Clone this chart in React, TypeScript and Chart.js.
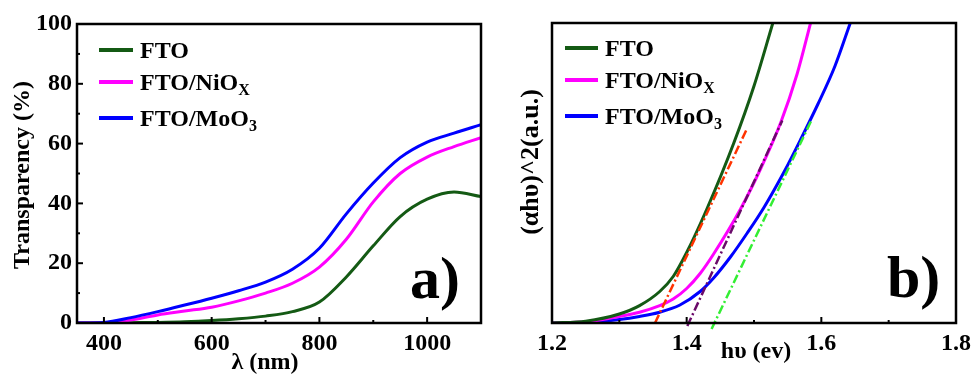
import React, { useEffect, useRef } from "react";
import { Chart, registerables } from "chart.js";

Chart.register(...registerables);

const FONT = '"Liberation Serif", "Times New Roman", serif';

// ---------- Panel a) transparency ----------
const wavelengths = [350, 400, 450, 500, 550, 600, 650, 700, 750, 800, 850, 900, 950, 1000, 1050, 1100];
const transFTO = [0, 0, 0.1, 0.2, 0.4, 0.8, 1.4, 2.3, 3.8, 7, 15.4, 25.8, 35.6, 41.4, 43.8, 42.3];
const transNiOx = [0, 0, 1.0, 2.7, 4.0, 5.3, 7.4, 10, 13.3, 18.7, 28, 40.5, 50, 55.5, 59, 62];
const transMoO3 = [0, 0.2, 1.8, 3.8, 6, 8.3, 10.8, 13.7, 18, 25, 36.5, 46.8, 55.3, 60.5, 63.5, 66.3];
const wlTicks = [400, 600, 800, 1000];
const wlMinorTicks = [500, 700, 900, 1100];
const transTicks = [0, 20, 40, 60, 80, 100];
const transMinorTicks = [10, 30, 50, 70, 90];

// ---------- Panel b) Tauc plot ----------
const eFTO = [1.2, 1.25, 1.3, 1.33, 1.36, 1.38, 1.4, 1.43, 1.47, 1.5, 1.528];
const tFTO = [0, 0.6, 3, 5.8, 10.5, 15.5, 23.5, 38, 60, 79, 100];
const eNiOx = [1.2, 1.25, 1.3, 1.33, 1.36, 1.38, 1.4, 1.42, 1.44, 1.48, 1.51, 1.54, 1.564, 1.584];
const tNiOx = [0, 0.4, 2.2, 3.6, 5.8, 8, 11.5, 16.5, 23, 38, 51.5, 67, 83, 100];
const eMoO3 = [1.2, 1.25, 1.3, 1.33, 1.36, 1.39, 1.42, 1.44, 1.465, 1.49, 1.515, 1.545, 1.57, 1.595, 1.62, 1.643];
const tMoO3 = [0, 0.2, 1.2, 2.2, 3.6, 6, 10.5, 15, 22, 30, 38.6, 50.5, 61.5, 73, 85.5, 100];
const eFitFTO = [1.353, 1.489];
const tFitFTO = [0, 64.5];
const eFitNiOx = [1.401, 1.542];
const tFitNiOx = [-1, 67.5];
const eFitMoO3 = [1.437, 1.586];
const tFitMoO3 = [-2, 67.9];
const eTicks = [1.2, 1.4, 1.6, 1.8];
const eMinorTicks = [1.3, 1.5, 1.7];

const seriesNames = ["FTO", "FTO/NiO", "FTO/MoO"];
const seriesSubs = ["", "X", "3"];
const seriesColors = ["#145a14", "#ff00ff", "#0000ff"];
const fitColors = ["#ff3300", "#6a0a6a", "#33ee33"];

const pts = (xs: number[], ys: number[]) => xs.map((x, i) => ({ x, y: ys[i] }));

type Decor = {
  xMinor: number[];
  yMinor: number[];
  yTicksOn: boolean;
  legend: { x0: number; x1: number; ys: number[] };
  panel: { text: string; x: number; y: number };
  xTitle: { text: string; x: number; y: number };
  yTitle: { text: string; x: number; y: number; size: number };
};

function makeDecor(d: Decor) {
  return {
    id: "decor",
    afterDraw(chart: any) {
      const ctx = chart.ctx as CanvasRenderingContext2D;
      const a = chart.chartArea;
      const xs = chart.scales.x;
      const ys = chart.scales.y;
      ctx.save();
      // inward ticks
      ctx.strokeStyle = "#000";
      ctx.lineWidth = 2;
      const xt = (v: number, len: number) => {
        const p = xs.getPixelForValue(v);
        ctx.beginPath();
        ctx.moveTo(p, a.bottom);
        ctx.lineTo(p, a.bottom - len);
        ctx.stroke();
      };
      xs.ticks.forEach((t: any) => xt(t.value, 6));
      d.xMinor.forEach((v) => xt(v, 3));
      if (d.yTicksOn) {
        const yt = (v: number, len: number) => {
          const p = ys.getPixelForValue(v);
          ctx.beginPath();
          ctx.moveTo(a.left, p);
          ctx.lineTo(a.left + len, p);
          ctx.stroke();
        };
        ys.ticks.forEach((t: any) => yt(t.value, 6));
        d.yMinor.forEach((v) => yt(v, 3));
      }
      // frame
      ctx.lineWidth = 2.5;
      ctx.strokeRect(a.left, a.top, a.right - a.left, a.bottom - a.top);

      // legend
      ctx.fillStyle = "#000";
      ctx.textBaseline = "alphabetic";
      ctx.textAlign = "left";
      d.legend.ys.forEach((y, i) => {
        ctx.strokeStyle = seriesColors[i];
        ctx.lineWidth = 4;
        ctx.beginPath();
        ctx.moveTo(d.legend.x0, y);
        ctx.lineTo(d.legend.x1, y);
        ctx.stroke();
        ctx.font = `bold 24px ${FONT}`;
        const tx = d.legend.x1 + 7;
        ctx.fillText(seriesNames[i], tx, y + 8);
        const w = ctx.measureText(seriesNames[i]).width;
        if (seriesSubs[i]) {
          ctx.font = `bold 16px ${FONT}`;
          ctx.fillText(seriesSubs[i], tx + w, y + 13);
        }
      });

      // panel label
      ctx.font = `bold 60px ${FONT}`;
      ctx.fillText(d.panel.text, d.panel.x, d.panel.y);

      // x title
      ctx.font = `bold 24px ${FONT}`;
      ctx.textAlign = "center";
      ctx.fillText(d.xTitle.text, d.xTitle.x, d.xTitle.y);

      // y title
      ctx.font = `bold ${d.yTitle.size}px ${FONT}`;
      ctx.translate(d.yTitle.x, d.yTitle.y);
      ctx.rotate(-Math.PI / 2);
      ctx.textBaseline = "middle";
      ctx.fillText(d.yTitle.text, 0, 0);
      ctx.restore();
    },
  };
}

function fixScale(size: number, horizontal: boolean) {
  return (scale: any) => {
    if (horizontal) scale.height = size;
    else scale.width = size;
    scale.paddingLeft = 0;
    scale.paddingRight = 0;
    scale.paddingTop = 0;
    scale.paddingBottom = 0;
  };
}

const tickFont = { family: FONT, size: 24, weight: "bold" as const };

function lineDs(data: any[], color: string, width = 3, extra: any = {}) {
  return {
    data,
    borderColor: color,
    backgroundColor: color,
    borderWidth: width,
    pointRadius: 0,
    fill: false,
    cubicInterpolationMode: "monotone",
    ...extra,
  };
}

function PanelA() {
  const ref = useRef<HTMLCanvasElement>(null);
  useEffect(() => {
    const chart = new Chart(ref.current!, {
      type: "line",
      data: {
        datasets: [
          lineDs(pts(wavelengths, transMoO3), seriesColors[2]),
          lineDs(pts(wavelengths, transNiOx), seriesColors[1]),
          lineDs(pts(wavelengths, transFTO), seriesColors[0]),
        ],
      },
      options: {
        responsive: false,
        animation: false,
        events: [],
        layout: { padding: { left: 0, top: 24, right: 5, bottom: 0 } },
        plugins: { legend: { display: false }, tooltip: { enabled: false } },
        scales: {
          x: {
            type: "linear",
            min: 350,
            max: 1100,
            grid: { display: false, drawTicks: false },
            border: { display: false },
            afterBuildTicks: (s: any) => {
              s.ticks = wlTicks.map((v) => ({ value: v }));
            },
            afterFit: fixScale(52, true),
            ticks: { color: "#000", font: tickFont, padding: 6, maxRotation: 0, callback: (v: any) => String(v) },
          },
          y: {
            type: "linear",
            min: 0,
            max: 100,
            grid: { display: false, drawTicks: false },
            border: { display: false },
            afterBuildTicks: (s: any) => {
              s.ticks = transTicks.map((v) => ({ value: v }));
            },
            afterFit: fixScale(77, false),
            ticks: { color: "#000", font: tickFont, padding: 5, callback: (v: any) => String(v) },
          },
        },
      },
      plugins: [
        makeDecor({
          xMinor: wlMinorTicks,
          yMinor: transMinorTicks,
          yTicksOn: true,
          legend: { x0: 99, x1: 133, ys: [50, 82, 118] },
          panel: { text: "a)", x: 410, y: 298 },
          xTitle: { text: "λ (nm)", x: 265, y: 369 },
          yTitle: { text: "Transparency (%)", x: 23, y: 175, size: 24 },
        }),
      ],
    } as any);
    return () => chart.destroy();
  }, []);
  return <canvas ref={ref} width={486} height={375} style={{ position: "absolute", left: 0, top: 0 }} />;
}

function PanelB() {
  const ref = useRef<HTMLCanvasElement>(null);
  useEffect(() => {
    const dash = [9, 3, 2, 3];
    const fitExtra = { borderDash: dash, clip: false, cubicInterpolationMode: "default", tension: 0 };
    const chart = new Chart(ref.current!, {
      type: "line",
      data: {
        datasets: [
          lineDs(pts(eFTO, tFTO), seriesColors[0], 3, { order: 3 }),
          lineDs(pts(eNiOx, tNiOx), seriesColors[1], 3, { order: 4 }),
          lineDs(pts(eMoO3, tMoO3), seriesColors[2], 3, { order: 5 }),
          lineDs(pts(eFitFTO, tFitFTO), fitColors[0], 2.5, { order: 0, ...fitExtra }),
          lineDs(pts(eFitNiOx, tFitNiOx), fitColors[1], 2.5, { order: 1, ...fitExtra }),
          lineDs(pts(eFitMoO3, tFitMoO3), fitColors[2], 2.5, { order: 2, ...fitExtra }),
        ],
      },
      options: {
        responsive: false,
        animation: false,
        events: [],
        layout: { padding: { left: 0, top: 23, right: 16, bottom: 0 } },
        plugins: { legend: { display: false }, tooltip: { enabled: false } },
        scales: {
          x: {
            type: "linear",
            min: 1.2,
            max: 1.8,
            grid: { display: false, drawTicks: false },
            border: { display: false },
            afterBuildTicks: (s: any) => {
              s.ticks = eTicks.map((v) => ({ value: v }));
            },
            afterFit: fixScale(52, true),
            ticks: { color: "#000", font: tickFont, padding: 6, maxRotation: 0, callback: (v: any) => Number(v).toFixed(1) },
          },
          y: {
            type: "linear",
            min: 0,
            max: 100,
            grid: { display: false, drawTicks: false },
            border: { display: false },
            afterFit: fixScale(66, false),
            ticks: { display: false },
          },
        },
      },
      plugins: [
        makeDecor({
          xMinor: eMinorTicks,
          yMinor: [],
          yTicksOn: false,
          legend: { x0: 79, x1: 112, ys: [48, 80, 116] },
          panel: { text: "b)", x: 401, y: 297 },
          xTitle: { text: "hυ (ev)", x: 270, y: 358 },
          yTitle: { text: "(αhυ)^2(a.u.)", x: 45, y: 162, size: 26 },
        }),
      ],
    } as any);
    return () => chart.destroy();
  }, []);
  return <canvas ref={ref} width={486} height={375} style={{ position: "absolute", left: 486, top: 0 }} />;
}

export default function App() {
  return (
    <div style={{ position: "fixed", left: 0, top: 0, width: 972, height: 375, background: "#fff", overflow: "hidden" }}>
      <PanelA />
      <PanelB />
    </div>
  );
}
